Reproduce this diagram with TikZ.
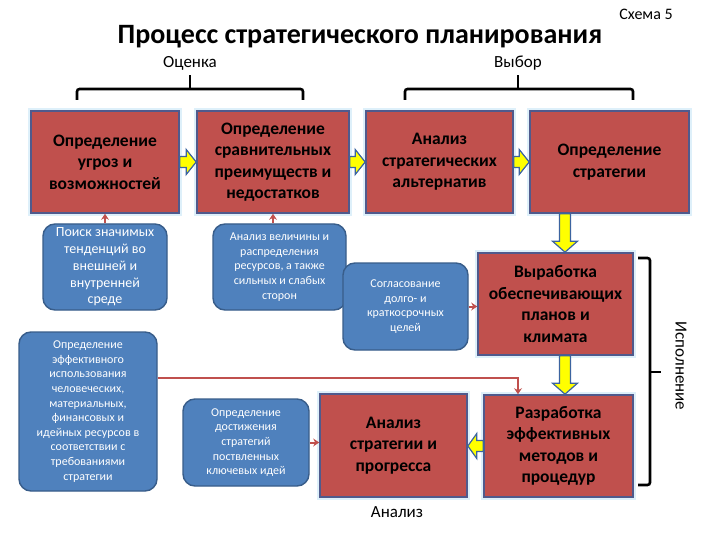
\documentclass[tikz,border=0pt]{standalone}
\usepackage{fontspec}
\setmainfont{Carlito}
\usetikzlibrary{arrows.meta,calc}
\definecolor{boxred}{RGB}{192,80,77}
\definecolor{boxredline}{RGB}{80,90,140}
\definecolor{boxblue}{RGB}{79,129,189}
\definecolor{boxblueline}{RGB}{56,93,138}
\definecolor{arrowline}{RGB}{60,100,160}
\definecolor{glowc}{RGB}{222,240,250}
\definecolor{yel}{RGB}{255,255,0}
\tikzset{
  redbox/.style={draw=boxredline, line width=1.6pt, fill=boxred, align=center,
    inner sep=2pt, text=black, font=\bfseries\fontsize{17.5}{21.5}\selectfont,
    preaction={draw=glowc, line width=6pt}},
  bluebox/.style={draw=boxblueline, line width=1.4pt, fill=boxblue, rounded corners=12pt,
    align=center, inner sep=2pt, text=white, font=\fontsize{12}{14.6}\selectfont},
  yarrow/.style={draw=arrowline, line width=1.2pt, fill=yel, line join=miter},
  redarr/.style={draw=boxred, line width=2pt, -{Stealth[length=6pt,width=8pt]}},
  redline/.style={draw=boxred, line width=1.6pt, -{Stealth[length=6pt,width=8pt]}},
  brk/.style={draw=black, line width=2.6pt, rounded corners=2.5pt},
  lbl/.style={font=\fontsize{17}{20}\selectfont, inner sep=0pt},
}
\newcommand\yArrowR[2]{\path[yarrow] let \p1=(#1.east), \p2=(#2.west) in
  (\x1,\y1+5.5pt) -- (\x2-10pt,\y1+5.5pt) -- (\x2-10pt,\y1+12.5pt) -- (\x2,\y1)
  -- (\x2-10pt,\y1-12.5pt) -- (\x2-10pt,\y1-5.5pt) -- (\x1,\y1-5.5pt) -- cycle;}
\newcommand\yArrowL[2]{\path[yarrow] let \p1=(#1.west), \p2=(#2.east) in
  (\x1,\y1+5.5pt) -- (\x2+9pt,\y1+5.5pt) -- (\x2+9pt,\y1+12.5pt) -- (\x2,\y1)
  -- (\x2+9pt,\y1-12.5pt) -- (\x2+9pt,\y1-5.5pt) -- (\x1,\y1-5.5pt) -- cycle;}
\newcommand\yArrowV[3]{\path[yarrow] let \p1=($(#1.south)+(#3,0)$), \p2=(#2.north) in
  (\x1-5.5pt,\y1) -- (\x1+5.5pt,\y1) -- (\x1+5.5pt,\y2+11pt) -- (\x1+12.5pt,\y2+11pt)
  -- (\x1,\y2) -- (\x1-12.5pt,\y2+11pt) -- (\x1-5.5pt,\y2+11pt) -- cycle;}
\begin{document}
\begin{tikzpicture}[x=1pt,y=-1pt]
\useasboundingbox[fill=white] (0,0) rectangle (720,540);

% titles
\node[font=\bfseries\fontsize{28}{32}\selectfont, inner sep=0pt] (title) at (360,37) {Процесс стратегического планирования};
\node[font=\fontsize{16}{19}\selectfont, inner sep=0pt] (schema) at (646,14) {Схема 5};
\node[lbl] (ocenka) at (190,63) {Оценка};
\node[lbl] (vybor) at (518,63) {Выбор};

% brackets
\draw[brk] (77,100) -- (77,89) -- (303,89) -- (303,100);
\draw[brk] (190,89) -- (190,75);
\draw[brk] (405,100) -- (405,89) -- (633,89) -- (633,100);
\draw[brk] (518,89) -- (518,75);
\draw[brk] (638,258) -- (650,258) -- (650,485) -- (638,485);
\draw[brk] (650,372) -- (661,372);
\node[lbl, rotate=-90] (isp) at (681,366) {Исполнение};

% red boxes
\node[redbox, minimum width=148pt, minimum height=102pt] (b1) at (105,162) {Определение\\угроз и\\возможностей};
\node[redbox, minimum width=152pt, minimum height=102pt] (b2) at (273,162) {Определение\\сравнительных\\преимуществ и\\недостатков};
\node[redbox, minimum width=147pt, minimum height=102pt] (b3) at (439.5,162) {Анализ\\стратегических\\альтернатив};
\node[redbox, minimum width=159pt, minimum height=102pt] (b4) at (609.5,162) {Определение\\стратегии};
\node[redbox, minimum width=155pt, minimum height=102pt] (b5) at (555.5,304) {Выработка\\обеспечивающих\\планов и\\климата};
\node[redbox, minimum width=149pt, minimum height=102pt] (b6) at (558.5,446) {Разработка\\эффективных\\методов и\\процедур};
\node[redbox, minimum width=147pt, minimum height=103pt] (b7) at (393.5,445.5) {Анализ\\стратегии и\\прогресса};
\node[lbl] (analiz) at (397,512) {Анализ};

% blue boxes
\node[bluebox, minimum width=124pt, minimum height=86pt, font=\fontsize{14}{16.7}\selectfont] (bl1) at (105,267) {Поиск значимых\\тенденций во\\внешней и\\внутренней\\среде};
\node[bluebox, minimum width=133pt, minimum height=86pt] (bl2) at (279.5,267) {Анализ величины и\\распределения\\ресурсов, а также\\сильных и слабых\\сторон};
\node[bluebox, minimum width=125pt, minimum height=87pt] (bl3) at (405.5,306.5) {Согласование\\долго- и\\краткосрочных\\целей};
\node[bluebox, minimum width=138pt, minimum height=159pt] (bl4) at (88,411.5) {Определение\\эффективного\\использования\\человеческих,\\материальных,\\финансовых и\\идейных ресурсов в\\соответствии с\\требованиями\\стратегии};
\node[bluebox, minimum width=126pt, minimum height=87pt] (bl5) at (246,442.5) {Определение\\достижения\\стратегий\\поствленных\\ключевых идей};

% yellow block arrows
\yArrowR{b1}{b2}
\yArrowR{b2}{b3}
\yArrowR{b3}{b4}
\yArrowV{b4}{b5}{-44.5}
\yArrowV{b5}{b6}{9.5}
\yArrowL{b6}{b7}

% red connectors
\draw[redarr] (bl1.north) -- (b1.south);
\draw[redarr] (b2.south |- bl2.north) -- (b2.south);
\draw[redarr] (bl3.east) -- (bl3.east -| b5.west);
\draw[redarr] (bl5.east) -- (bl5.east -| b7.west);
\draw[redline] ([yshift=33.5pt]bl4.east) -| ([xshift=-40.5pt]b6.north);
\end{tikzpicture}
\end{document}
